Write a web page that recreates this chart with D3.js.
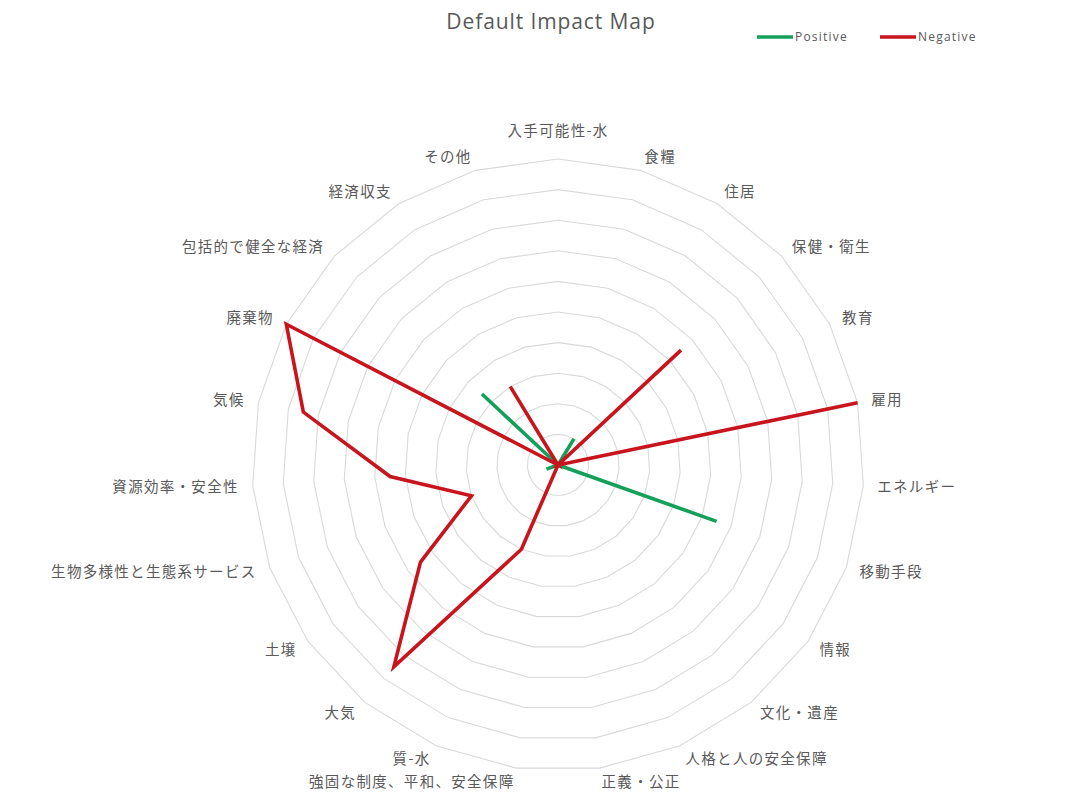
<!DOCTYPE html>
<html>
<head>
<meta charset="utf-8">
<script src="https://cdn.jsdelivr.net/npm/d3@7"></script>
<style>
  html, body { margin: 0; padding: 0; background: #ffffff; }
  svg { display: block; }
</style>
</head>
<body>
<svg id="chart" width="1084" height="797"></svg>
<script>
// Impact categories, clockwise from the top
const categories = [
  "入手可能性-水", "食糧", "住居", "保健・衛生", "教育", "雇用", "エネルギー",
  "移動手段", "情報", "文化・遺産", "人格と人の安全保障", "正義・公正",
  "強固な制度、平和、安全保障", "質-水", "大気", "土壌",
  "生物多様性と生態系サービス", "資源効率・安全性", "気候", "廃棄物",
  "包括的で健全な経済", "経済収支", "その他"
];

const positiveValues = [0, 0, 1, 0, 0, 0, 0, 5.5, 0, 0, 0, 0, 0, 0, 0, 0, 0.4, 0, 0, 0, 3.4, 0, 0];
const negativeValues = [0, 0, 0, 5.5, 0, 10, 0, 0, 0, 0, 0, 0, 0, 3, 8.5, 5.5, 3, 5.5, 8.5, 10, 0, 3, 0];

const seriesNames = ["Positive", "Negative"];
const seriesColors = ["#14a05a", "#c8141c"];
const gridLevels = [1, 2, 3, 4, 5, 6, 7, 8, 9, 10];
const title = "Default Impact Map";

const svg = d3.select("#chart");
const cx = 558, cy = 465, R = 306;
const fontJP = "'Noto Sans CJK JP', 'Noto Sans', sans-serif";
const fontLatin = "'Open Sans', 'Noto Sans', sans-serif";

const angle = d3.scalePoint()
  .domain(categories)
  .range([0, 2 * Math.PI * (categories.length - 1) / categories.length]);
const r = d3.scaleLinear().domain([0, 10]).range([0, R]);

const g = svg.append("g").attr("transform", `translate(${cx},${cy})`);

// concentric polygon gridlines
const gridLine = d3.lineRadial()
  .angle(d => angle(d))
  .curve(d3.curveLinearClosed);
g.append("g").selectAll("path")
  .data(gridLevels)
  .join("path")
  .attr("d", lvl => gridLine.radius(r(lvl))(categories))
  .attr("fill", "none")
  .attr("stroke", "#d9d9d9")
  .attr("stroke-width", 1.1);

// category labels around the outside; centred labels get pushed clear of the ring
const labelR = R + 14;
g.append("g").selectAll("text")
  .data(categories)
  .join("text")
  .attr("x", d => labelR * Math.sin(angle(d)))
  .attr("y", d => {
    const a = angle(d);
    const extra = Math.abs(Math.sin(a)) < 0.05 ? 14 : 0;
    return -(labelR + extra) * Math.cos(a);
  })
  .attr("dy", "0.35em")
  .attr("text-anchor", d => {
    const s = Math.sin(angle(d));
    return s > 0.05 ? "start" : s < -0.05 ? "end" : "middle";
  })
  .attr("font-family", fontJP)
  .attr("font-size", 14.5)
  .attr("letter-spacing", 1.3)
  .attr("fill", "#595959")
  .text(d => d);

// data series
const seriesLine = d3.lineRadial()
  .angle((d, i) => angle(categories[i]))
  .radius(d => r(d))
  .curve(d3.curveLinearClosed);
[positiveValues, negativeValues].forEach((vals, k) => {
  g.append("path")
    .attr("d", seriesLine(vals))
    .attr("fill", "none")
    .attr("stroke", seriesColors[k])
    .attr("stroke-width", 3.6)
    .attr("stroke-linejoin", "miter");
});

// title
svg.append("text")
  .attr("x", 551)
  .attr("y", 29)
  .attr("text-anchor", "middle")
  .attr("font-family", fontLatin)
  .attr("font-size", 21)
  .attr("letter-spacing", 0.9)
  .attr("fill", "#595959")
  .text(title);

// legend
const legend = svg.append("g").attr("transform", "translate(757,37)");
const legendX = [0, 123];
seriesNames.forEach((name, i) => {
  const item = legend.append("g").attr("transform", `translate(${legendX[i]},0)`);
  item.append("line")
    .attr("x1", 0).attr("x2", 36)
    .attr("y1", 0).attr("y2", 0)
    .attr("stroke", seriesColors[i])
    .attr("stroke-width", 3.6);
  item.append("text")
    .attr("x", 38)
    .attr("y", 0)
    .attr("dy", "0.35em")
    .attr("font-family", fontLatin)
    .attr("font-size", 12)
    .attr("letter-spacing", 1.2)
    .attr("fill", "#595959")
    .text(name);
});
</script>
</body>
</html>
